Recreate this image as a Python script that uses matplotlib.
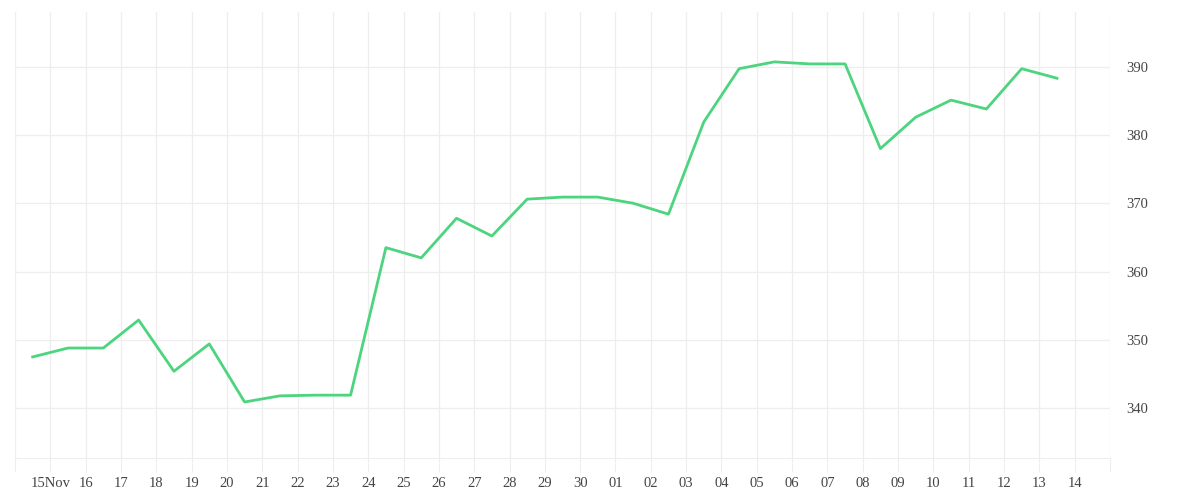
import matplotlib
matplotlib.use("Agg")
import matplotlib.pyplot as plt
from datetime import datetime, timedelta

# daily values, sampled at noon
start = datetime(2023, 11, 14, 12)
dates = [start + timedelta(days=i) for i in range(30)]
values = [347.5, 348.8, 348.8, 352.9, 345.4, 349.4, 340.9, 341.8, 341.9, 341.9,
          363.5, 362.0, 367.8, 365.2, 370.6, 370.9, 370.9, 370.0, 368.4, 381.9,
          389.7, 390.7, 390.4, 390.4, 378.0, 382.6, 385.1, 383.8, 389.7, 388.3]

# day ticks from Nov 14 to Dec 15, only inner ones labelled
tick_days = [datetime(2023, 11, 14) + timedelta(days=i) for i in range(32)]
tick_labels = [""] + ["15Nov"] + [d.strftime("%d") for d in tick_days[2:-1]] + [""]
y_ticks = [340, 350, 360, 370, 380, 390]

grid_col = "#eeeeee"
text_col = "#444444"

fig = plt.figure(figsize=(12, 5), dpi=100)
ax = fig.add_axes([0.0125, 0.084, 0.9125, 0.892])

ax.plot(dates, values, color="#4cd47e", lw=2.0)

ax.set_xlim(tick_days[0], tick_days[-1])
ax.set_ylim(332.7, 398.0)

ax.set_xticks(tick_days)
ax.set_xticklabels(tick_labels)
ax.set_yticks(y_ticks)
ax.yaxis.tick_right()

ax.grid(True, color=grid_col, lw=0.9)
ax.set_axisbelow(True)
for side in ["top", "left", "right"]:
    ax.spines[side].set_visible(False)
ax.spines["bottom"].set_color(grid_col)

ax.tick_params(axis="x", length=10, color=grid_col, pad=4,
               labelsize=10.5, labelcolor=text_col)
ax.tick_params(axis="y", length=0, pad=12, labelsize=10.5, labelcolor=text_col)
for lab in ax.get_xticklabels() + ax.get_yticklabels():
    lab.set_family("Liberation Serif")

fig.savefig("out.png", dpi=100)
